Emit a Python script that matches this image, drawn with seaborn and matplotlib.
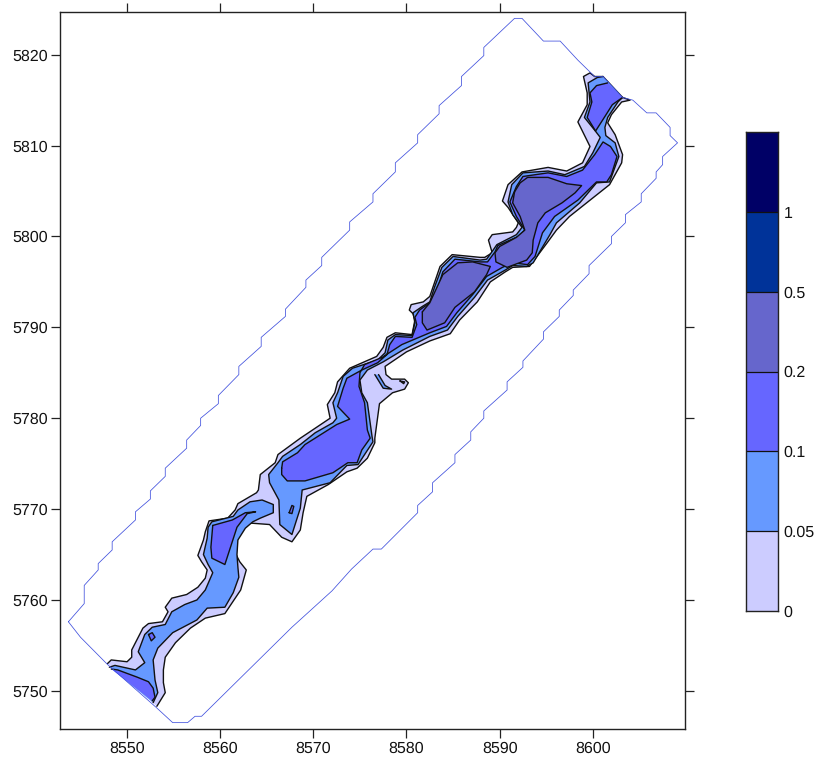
import numpy as np
import matplotlib
matplotlib.use("Agg")
import matplotlib.pyplot as plt
from matplotlib.colors import ListedColormap
import seaborn as sns

# ---- contour band colours and labels (low to high) ----
level_labels = ["0", "0.05", "0.1", "0.2", "0.5", "1"]
level_colors = ["#CCCCFF", "#6699FF", "#6666FF", "#6666CC", "#003399", "#000066"]
x_ticks = [8550, 8560, 8570, 8580, 8590, 8600]
y_ticks = [5750, 5760, 5770, 5780, 5790, 5800, 5810, 5820]

# ---- survey boundary ----
boundary_x = [8543.7,8545.4,8545.4,8546.9,8546.9,8548.4,8548.4,8550.9,8550.9,8552.5,8552.5,8554.1,8554.1,8556.4,8556.4,8557.9,8557.9,8559.8,8559.8,8562.0,8562.0,8564.4,8564.4,8567.0,8567.0,8569.2,8569.2,8570.9,8570.9,8573.9,8573.9,8576.4,8576.4,8578.8,8578.8,8581.2,8581.2,8583.5,8583.5,8585.9,8585.9,8588.3,8588.3,8591.6,8592.4,8594.7,8596.5,8598.4,8600.2,8601.1,8603.2,8604.3,8605.8,8606.8,8608.3,8608.3,8609.1,8607.5,8607.5,8606.8,8606.8,8605.2,8605.2,8603.5,8603.5,8602.0,8602.0,8599.6,8599.6,8597.9,8597.9,8596.4,8596.4,8594.7,8594.7,8592.5,8592.5,8590.8,8590.8,8588.3,8588.3,8586.9,8586.9,8585.2,8585.2,8582.8,8582.8,8581.2,8581.2,8577.3,8576.4,8574.1,8572.0,8569.1,8567.7,8558.0,8557.3,8556.5,8554.9,8553.1,8547.9,8545.0,8543.7]
boundary_y = [5757.6,5759.6,5761.6,5763.3,5764.0,5765.5,5766.4,5768.8,5769.7,5771.1,5772.0,5773.6,5774.5,5776.7,5777.6,5779.2,5780.0,5781.6,5782.5,5784.8,5785.7,5787.9,5788.9,5791.2,5792.0,5794.4,5795.2,5796.8,5797.7,5800.7,5801.6,5803.8,5804.7,5807.1,5808.1,5810.3,5811.2,5813.5,5814.4,5816.6,5817.6,5819.9,5820.8,5824.0,5824.0,5821.5,5821.5,5819.4,5817.6,5817.6,5815.3,5815.0,5813.6,5813.6,5812.0,5811.1,5810.3,5808.8,5807.9,5807.1,5806.4,5804.7,5803.8,5802.4,5801.5,5800.0,5799.2,5796.8,5795.9,5794.1,5793.5,5791.9,5791.2,5789.5,5788.7,5786.3,5785.6,5784.0,5783.1,5780.8,5780.0,5778.5,5777.6,5776.0,5775.1,5772.9,5771.9,5770.4,5769.6,5765.6,5765.6,5763.4,5761.0,5758.3,5757.0,5747.2,5747.2,5746.5,5746.5,5748.2,5752.9,5755.9,5757.6]

# ---- level 0 ----
lake_x = [8547.9,8548.3,8550.0,8550.5,8550.5,8551.2,8551.7,8552.3,8553.8,8554.4,8554.1,8554.8,8556.4,8557.6,8558.4,8558.6,8558.0,8557.6,8558.2,8558.4,8558.8,8560.8,8561.6,8561.9,8563.9,8564.1,8564.3,8565.9,8566.2,8568.6,8571.5,8571.8,8571.5,8572.3,8572.6,8573.9,8576.8,8577.5,8577.9,8578.8,8580.6,8580.9,8580.7,8580.3,8580.5,8581.8,8582.5,8583.6,8584.9,8587.9,8588.4,8589.2,8588.8,8589.2,8591.4,8591.8,8592.0,8590.9,8590.3,8590.9,8592.4,8595.2,8597.2,8598.9,8599.7,8598.4,8599.4,8599.4,8599.0,8599.7,8600.2,8601.1,8603.2,8604.0,8603.1,8602.0,8601.6,8602.4,8603.2,8603.1,8601.8,8597.5,8596.1,8595.1,8593.2,8591.4,8590.6,8589.0,8587.6,8585.7,8584.7,8582.5,8580.0,8577.7,8577.8,8578.4,8579.8,8580.2,8579.8,8578.5,8577.1,8576.6,8576.6,8575.8,8574.7,8573.6,8571.6,8569.3,8568.9,8568.6,8567.7,8566.6,8565.3,8562.7,8561.9,8561.6,8562.1,8562.8,8562.2,8560.5,8558.4,8556.8,8555.2,8554.1,8553.9,8553.9,8554.1,8553.2]
lake_y = [5753.0,5753.4,5753.2,5753.7,5754.5,5755.9,5756.9,5757.4,5757.6,5758.7,5759.2,5760.2,5760.6,5761.4,5762.4,5763.3,5764.2,5764.9,5766.6,5767.5,5768.7,5769.0,5769.9,5770.6,5771.8,5772.1,5773.8,5775.1,5776.0,5777.8,5779.8,5780.0,5781.5,5782.8,5784.0,5785.5,5786.8,5787.8,5788.9,5789.4,5789.2,5790.8,5791.5,5791.9,5792.5,5792.8,5793.4,5796.7,5798.0,5797.7,5797.7,5798.2,5799.6,5800.2,5800.5,5801.0,5801.5,5803.2,5803.9,5805.7,5807.1,5807.6,5807.2,5808.1,5809.9,5812.6,5814.5,5815.8,5817.6,5818.0,5817.6,5817.6,5815.3,5815.0,5814.8,5813.4,5812.5,5811.2,5809.0,5808.1,5805.7,5802.2,5800.7,5799.3,5796.7,5796.6,5796.1,5795.0,5792.8,5790.8,5789.3,5788.5,5787.3,5785.7,5784.8,5784.3,5784.3,5783.9,5783.2,5782.8,5781.6,5777.8,5777.3,5775.6,5774.5,5774.1,5772.7,5771.4,5769.6,5767.7,5766.4,5766.9,5768.3,5768.5,5766.9,5765.2,5764.2,5763.3,5761.1,5758.5,5758.0,5756.9,5755.3,5753.7,5752.3,5750.9,5749.8,5748.3]

# ---- level 0.05 ----
blue_sw_x = [8548.1,8548.7,8550.9,8551.9,8551.2,8551.9,8552.7,8554.1,8554.8,8556.2,8557.5,8558.4,8559.2,8558.7,8558.2,8558.6,8558.7,8559.1,8561.4,8561.9,8563.2,8564.5,8565.7,8565.7,8564.3,8563.5,8562.7,8561.9,8561.8,8561.9,8562.0,8561.4,8560.5,8558.6,8557.5,8554.9,8553.3,8552.8,8553.0,8553.3,8552.8]
blue_sw_y = [5752.6,5752.8,5752.3,5753.1,5754.3,5756.2,5757.0,5757.3,5758.7,5759.5,5760.0,5761.1,5763.0,5763.9,5765.0,5766.8,5768.0,5768.6,5769.2,5769.9,5770.8,5771.0,5770.5,5769.6,5769.0,5768.6,5767.9,5766.6,5765.0,5763.6,5762.5,5760.8,5759.2,5759.1,5757.8,5756.4,5754.7,5753.4,5751.2,5749.8,5748.7]
blue_ne_x = [8603.2,8602.7,8601.6,8601.3,8601.4,8602.4,8602.8,8601.8,8600.4,8598.6,8596.1,8595.4,8593.6,8592.9,8591.4,8590.6,8588.7,8587.3,8585.5,8584.4,8582.5,8579.6,8577.5,8575.8,8575.0,8575.2,8575.8,8576.3,8576.4,8575.5,8574.8,8573.6,8571.8,8568.8,8568.6,8567.7,8566.4,8566.3,8565.3,8565.2,8566.2,8566.7,8568.6,8570.2,8572.1,8572.5,8572.1,8572.6,8573.2,8574.2,8576.9,8577.7,8578.0,8578.8,8580.6,8580.9,8580.7,8581.7,8582.5,8583.0,8583.8,8585.0,8587.9,8588.6,8589.3,8589.7,8591.8,8592.4,8591.4,8590.9,8591.3,8592.5,8595.2,8597.0,8599.1,8600.0,8600.8,8600.2,8599.1,8599.7,8599.5,8600.5,8601.1]
blue_ne_y = [5815.3,5814.8,5813.1,5812.0,5811.1,5810.3,5808.8,5806.0,5805.9,5803.7,5801.5,5800.2,5797.1,5796.7,5796.8,5796.3,5795.2,5793.3,5791.2,5789.7,5789.0,5787.5,5786.2,5785.3,5784.2,5782.8,5781.7,5778.0,5777.4,5776.0,5774.9,5774.8,5772.9,5772.1,5770.1,5767.2,5768.3,5771.0,5772.9,5773.8,5775.1,5775.8,5777.1,5778.4,5779.5,5780.0,5781.7,5782.8,5784.6,5785.5,5786.4,5787.2,5788.6,5789.2,5789.1,5790.5,5791.6,5792.3,5792.8,5794.4,5796.6,5797.8,5797.4,5797.5,5798.5,5799.1,5800.2,5801.0,5802.4,5803.8,5805.7,5807.0,5807.2,5806.8,5807.7,5809.2,5810.9,5811.7,5813.1,5814.8,5816.9,5817.5,5817.6]
blue_strip_x = [8576.6,8577.5,8578.4,8577.7,8577.0]
blue_strip_y = [5784.8,5783.3,5783.2,5783.6,5784.8]

# ---- level 0.1 ----
mid_diag_x = [8548.3,8549.0,8551.1,8552.3,8552.8,8553.0,8552.7]
mid_diag_y = [5752.4,5752.3,5751.5,5751.0,5750.3,5749.3,5748.9]
mid_dot_x = [8552.3,8552.7,8553.0,8552.6,8552.3]
mid_dot_y = [5756.2,5756.4,5755.9,5755.5,5756.2]
mid_sw_x = [8559.2,8561.3,8562.7,8563.8,8562.9,8561.8,8560.5,8559.1,8559.0,8559.2]
mid_sw_y = [5768.2,5768.8,5769.6,5769.7,5769.5,5768.0,5763.9,5764.6,5765.8,5768.2]
mid_main_x = [8566.6,8566.7,8568.3,8569.1,8572.5,8573.9,8572.6,8573.2,8573.6,8575.2,8576.9,8577.9,8578.2,8578.8,8580.6,8581.1,8580.9,8581.4,8582.5,8583.3,8583.9,8585.2,8587.9,8588.7,8589.5,8589.8,8592.0,8592.7,8591.8,8591.1,8591.8,8592.5,8595.2,8597.2,8598.9,8600.2,8601.1,8601.9,8602.6,8602.0,8601.5,8600.4,8598.4,8595.9,8594.6,8593.8,8593.0,8591.4,8590.3,8588.6,8587.1,8585.4,8584.3,8582.5,8579.5,8577.4,8575.5,8575.0,8574.9,8575.5,8575.8,8576.1,8575.2,8574.7,8573.7,8572.1,8569.1,8567.2,8566.6,8566.6]
mid_main_y = [5774.5,5775.2,5776.2,5777.1,5779.3,5779.9,5781.3,5783.3,5784.4,5785.3,5786.1,5787.0,5788.1,5789.0,5788.9,5790.3,5791.1,5791.9,5792.7,5794.1,5796.1,5797.5,5797.2,5797.2,5798.3,5799.0,5800.0,5800.7,5802.2,5803.8,5805.5,5806.6,5807.0,5806.6,5807.3,5809.0,5810.4,5809.9,5808.8,5806.8,5806.0,5806.0,5804.0,5802.2,5800.4,5797.8,5796.9,5797.1,5796.6,5795.6,5793.6,5791.6,5790.1,5789.4,5788.1,5786.7,5785.9,5785.0,5783.5,5781.7,5778.7,5777.8,5776.5,5775.1,5775.1,5774.0,5773.1,5773.1,5773.8,5774.5]
mid_mark_x = [8567.4,8567.7,8567.9,8567.7,8567.4]
mid_mark_y = [5769.6,5770.4,5770.3,5769.5,5769.6]
mid_spot_x = [8579.3,8579.8,8579.7,8579.3]
mid_spot_y = [5784.1,5784.0,5783.8,5784.1]
mid_top_x = [8603.2,8602.1,8601.3,8600.3,8599.4,8599.9,8599.7,8600.4,8601.6]
mid_top_y = [5815.3,5814.5,5813.2,5811.6,5813.1,5814.8,5815.8,5816.6,5816.9]

# ---- level 0.2 ----
deep_ne_x = [8591.6,8592.2,8593.0,8595.2,8597.2,8598.8,8598.1,8596.7,8594.9,8594.1,8593.6,8593.5,8592.9,8590.8,8589.6,8589.5,8590.0,8591.8,8592.7,8592.2,8591.4,8591.6]
deep_ne_y = [5804.9,5805.9,5806.5,5806.5,5805.8,5805.6,5804.8,5803.7,5802.6,5801.5,5799.6,5798.2,5797.4,5796.6,5797.2,5798.2,5798.9,5799.9,5800.7,5802.2,5803.7,5804.9]
deep_mid_x = [8581.7,8582.5,8583.9,8585.5,8587.1,8589.0,8588.6,8587.3,8585.2,8584.1,8582.2,8581.7,8581.7]
deep_mid_y = [5791.7,5792.7,5795.8,5797.1,5797.2,5796.7,5795.8,5793.9,5792.2,5790.5,5789.7,5790.5,5791.7]

# ---- figure ----
sns.set_style("ticks")
plt.rcParams["font.family"] = ["Liberation Sans", "DejaVu Sans"]
plt.rcParams["text.hinting"] = "no_hinting"
plt.rcParams["text.hinting_factor"] = 1
W, H = 819, 762
fig = plt.figure(figsize=(W / 100, H / 100), dpi=100)
ax = fig.add_axes([60 / W, 1 - 729 / H, 625 / W, 717 / H])

bands = [
    (lake_x, lake_y, 0),
    (blue_sw_x, blue_sw_y, 1),
    (blue_ne_x, blue_ne_y, 1),
    (blue_strip_x, blue_strip_y, 1),
    (mid_diag_x, mid_diag_y, 2),
    (mid_dot_x, mid_dot_y, 2),
    (mid_sw_x, mid_sw_y, 2),
    (mid_main_x, mid_main_y, 2),
    (mid_mark_x, mid_mark_y, 2),
    (mid_spot_x, mid_spot_y, 2),
    (mid_top_x, mid_top_y, 2),
    (deep_ne_x, deep_ne_y, 3),
    (deep_mid_x, deep_mid_y, 3),
]
for bx, by, lev in bands:
    ax.fill(bx, by, color=level_colors[lev], lw=0, zorder=2 + lev)
    sns.lineplot(x=bx, y=by, sort=False, estimator=None, color="#111111", lw=1.0,
                 ax=ax, zorder=2 + lev, legend=False)

sns.lineplot(x=boundary_x, y=boundary_y, sort=False, estimator=None, color="#3F4FDD",
             lw=0.55, ax=ax, zorder=10, legend=False)

ax.set_xlim(8542.8, 8609.9)
ax.set_ylim(5745.8, 5824.7)
ax.set_xticks(x_ticks)
ax.set_yticks(y_ticks)
ax.set_xlabel("")
ax.set_ylabel("")
ax.tick_params(axis="both", which="major", direction="out", length=6.5, width=0.9,
               color="#222222", top=True, right=True, labelsize=11.5, labelcolor="#111111")
ax.tick_params(axis="x", pad=2.5)
ax.tick_params(axis="y", pad=2.5)
for s in ax.spines.values():
    s.set_visible(True)
    s.set_linewidth(1.0)
    s.set_color("#222222")

# ---- colour bar ----
cax = fig.add_axes([746 / W, 1 - 611 / H, 32 / W, 479 / H])
rows = np.arange(len(level_colors))[::-1].reshape(-1, 1)
sns.heatmap(rows, cmap=ListedColormap(level_colors), cbar=False, ax=cax,
            xticklabels=False, yticklabels=False, vmin=-0.5, vmax=len(level_colors) - 0.5)
cax.hlines(range(1, len(level_colors)), 0, 1, color="#111111", lw=0.9)
cax.yaxis.tick_right()
cax.set_yticks(range(1, len(level_colors) + 1))
cax.set_yticklabels(level_labels[::-1], rotation=0, fontsize=11.5, color="#111111")
cax.tick_params(axis="y", length=0, pad=4)
for s in cax.spines.values():
    s.set_visible(True)
    s.set_linewidth(1.0)
    s.set_color("#222222")

fig.savefig("out.png", dpi=100)
